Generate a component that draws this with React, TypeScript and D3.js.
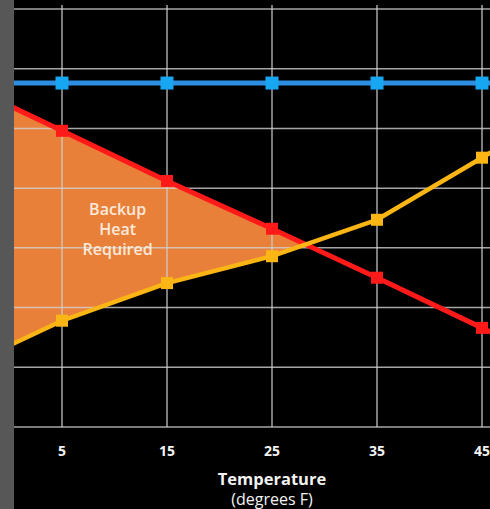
import * as d3 from "d3";

// x values (degrees F); the first and last points sit outside the visible range
const temperatures = [-5, 5, 15, 25, 35, 45, 55];
// heat the house needs (red) and what the heat pump delivers (yellow)
const heatLoss = [58.0, 49.6, 41.2, 33.2, 25.0, 16.6, 8.2];
const heatPumpOutput = [9.5, 17.8, 24.1, 28.6, 34.7, 45.1, 55.5];
// furnace / design level (blue), flat
const designLoad = [57.6, 57.6, 57.6, 57.6, 57.6, 57.6, 57.6];

const xTicks = [5, 15, 25, 35, 45];
const yGrid = [0, 10, 20, 30, 40, 50, 60, 70];
const areaLabel = ["Backup", "Heat", "Required"];

const W = 490;
const H = 509;
const left = 14;
const bottom = 427;

const FONT = "'Open Sans', 'Noto Sans', sans-serif";

const App = () => {
  const x = d3.scaleLinear().domain([5, 45]).range([62, 482]);
  const y = d3.scaleLinear().domain([0, 70]).range([bottom, 9]);
  const [xMin, xMax] = [x.invert(left), x.invert(W)];

  type P = { t: number; v: number };
  const series = (vals: number[]): P[] => temperatures.map((t, i) => ({ t, v: vals[i] }));

  const line = d3
    .line<P>()
    .x((d) => x(d.t))
    .y((d) => y(d.v));

  // region where heat loss exceeds heat pump output, closed at the crossing
  const band: { t: number; hi: number; lo: number }[] = [];
  for (let i = 0; i < temperatures.length; i++) {
    const d = heatLoss[i] - heatPumpOutput[i];
    if (d >= 0) band.push({ t: temperatures[i], hi: heatLoss[i], lo: heatPumpOutput[i] });
    if (i < temperatures.length - 1) {
      const dn = heatLoss[i + 1] - heatPumpOutput[i + 1];
      if (d > 0 && dn < 0) {
        const f = d / (d - dn);
        const t = temperatures[i] + f * (temperatures[i + 1] - temperatures[i]);
        const v = heatLoss[i] + f * (heatLoss[i + 1] - heatLoss[i]);
        band.push({ t, hi: v, lo: v });
        break;
      }
    }
  }
  const area = d3
    .area<{ t: number; hi: number; lo: number }>()
    .x((d) => x(d.t))
    .y0((d) => y(d.lo))
    .y1((d) => y(d.hi));

  const visible = (t: number) => t >= xMin && t <= xMax;

  const lines = [
    { vals: designLoad, stroke: "#2e8fe2", marker: "#17a6f2", width: 5, size: 13 },
    { vals: heatLoss, stroke: "#ff1a1a", marker: "#ff1a1a", width: 5, size: 12 },
    { vals: heatPumpOutput, stroke: "#fbb514", marker: "#fbb514", width: 4.5, size: 12 },
  ];

  return (
    <div style={{ position: "absolute", left: 0, top: 0 }}>
      <svg width={W} height={H} style={{ display: "block" }}>
        <defs>
          <clipPath id="plot">
            <rect x={left} y={0} width={W - left} height={bottom} />
          </clipPath>
        </defs>
        <rect width={W} height={H} fill="#000" />
        <rect width={left} height={H} fill="#575757" />

        <g clipPath="url(#plot)">
          <path d={area(band) ?? ""} fill="#e9803a" />
        </g>

        {/* grid */}
        <g stroke="#d0d0d0" strokeOpacity={0.8} strokeWidth={1.5}>
          {yGrid.map((v) => (
            <line key={v} x1={left} x2={W} y1={y(v)} y2={y(v)} />
          ))}
          {xTicks.map((t) => (
            <line key={t} x1={x(t)} x2={x(t)} y1={5} y2={bottom} />
          ))}
        </g>

        {areaLabel.map((s, i) => (
          <text
            key={s}
            x={x(10.3)}
            y={215 + i * 20}
            fill="#fbe9da"
            fontFamily={FONT}
            fontWeight={600}
            fontSize={16}
            textAnchor="middle"
          >
            {s}
          </text>
        ))}

        <g clipPath="url(#plot)">
          {lines.map((l, k) => {
            const pts = series(l.vals);
            return (
              <g key={k}>
                <path d={line(pts) ?? ""} fill="none" stroke={l.stroke} strokeWidth={l.width} />
                {pts
                  .filter((p) => visible(p.t))
                  .map((p) => (
                    <rect
                      key={p.t}
                      x={x(p.t) - l.size / 2}
                      y={y(p.v) - l.size / 2}
                      width={l.size}
                      height={l.size}
                      fill={l.marker}
                    />
                  ))}
              </g>
            );
          })}
        </g>

        {/* x axis labels */}
        <g fill="#f2f2f2" fontFamily={FONT} fontWeight={700} fontSize={14} textAnchor="middle">
          {xTicks.map((t) => (
            <text key={t} x={x(t)} y={456}>
              {t}
            </text>
          ))}
        </g>
        <text x={x(25)} y={485} fill="#f2f2f2" fontFamily={FONT} fontWeight={700} fontSize={16.5} textAnchor="middle">
          Temperature
        </text>
        <text x={x(25)} y={505} fill="#f2f2f2" fontFamily={FONT} fontWeight={400} fontSize={16} textAnchor="middle">
          (degrees F)
        </text>
      </svg>
    </div>
  );
};

export default App;
